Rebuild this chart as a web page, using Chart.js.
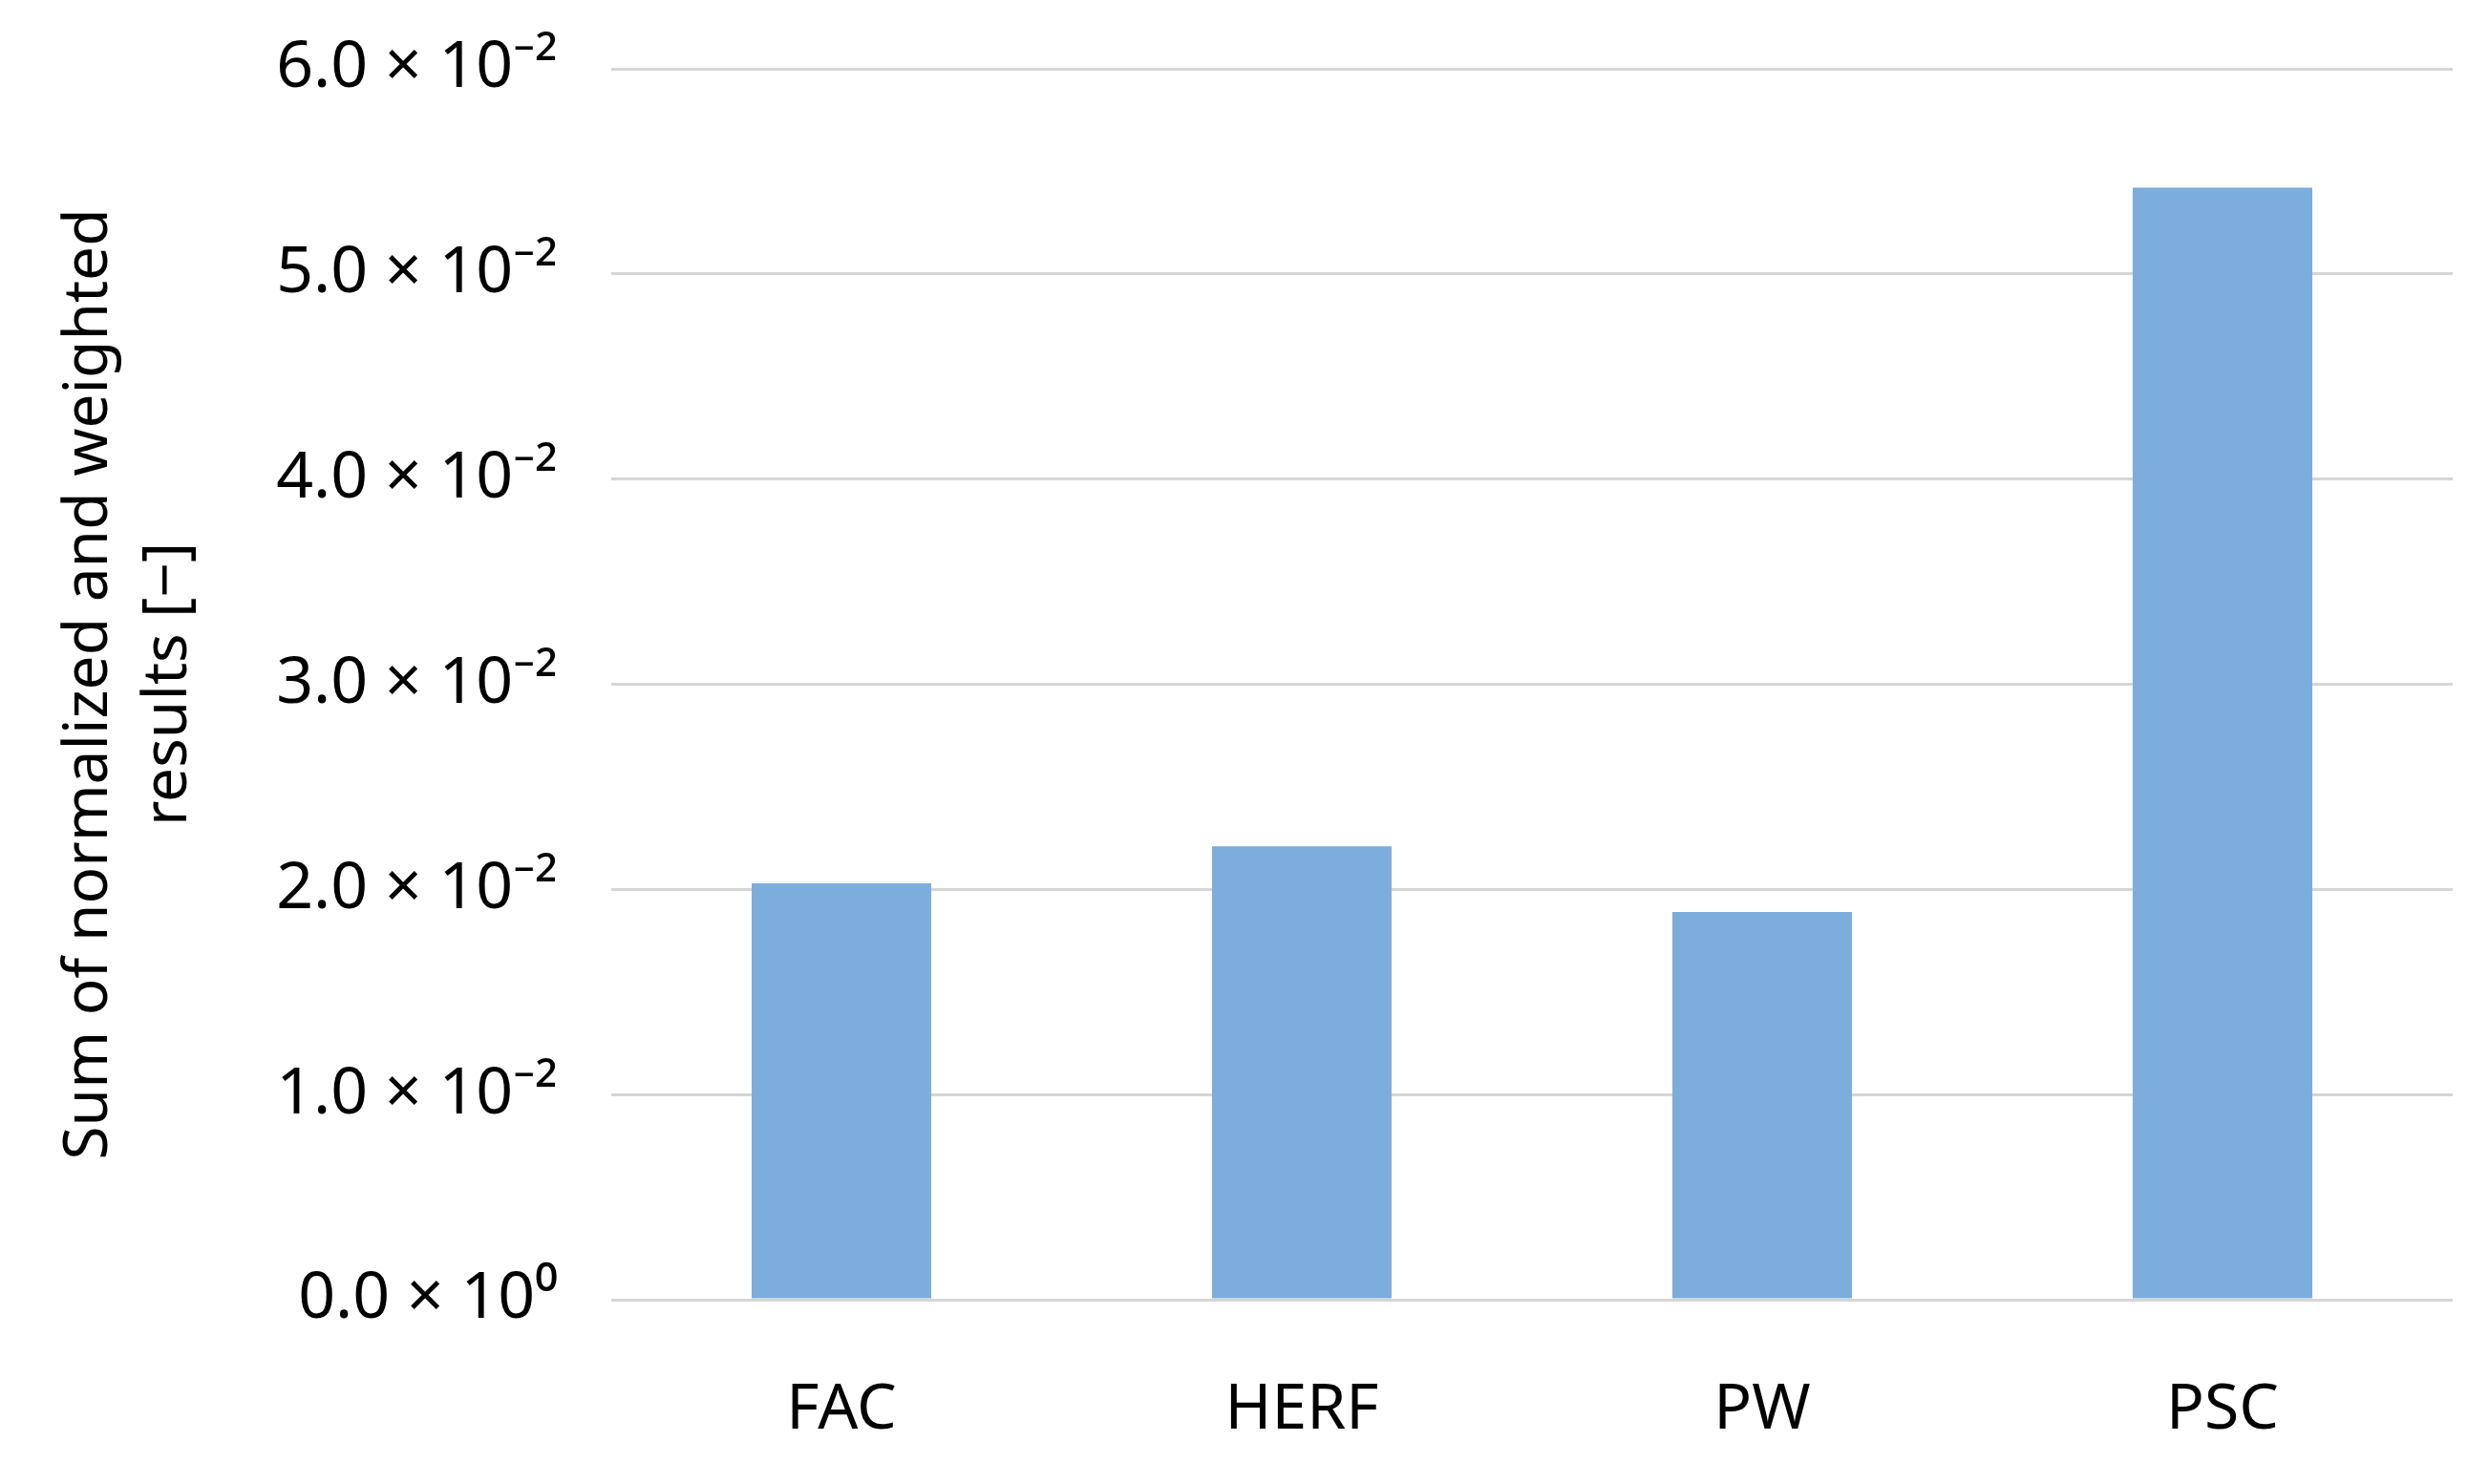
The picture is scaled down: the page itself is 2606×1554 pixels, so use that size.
<!DOCTYPE html>
<html>
<head>
<meta charset="utf-8">
<script src="https://cdn.jsdelivr.net/npm/chart.js@4"></script>
<style>
  html, body { margin: 0; padding: 0; background: #fff; }
  #wrap { width: 2606px; height: 1554px; }
</style>
</head>
<body>
<div id="wrap"><canvas id="myChart" width="2606" height="1554"></canvas></div>
<script>
// data
var categories = ["FAC", "HERF", "PW", "PSC"];
var results = [0.0203, 0.0221, 0.0189, 0.0542];
var yTicks = [0, 0.01, 0.02, 0.03, 0.04, 0.05, 0.06];
var yTitle = ["Sum of normalized and weighted", "results [\u2212]"];

function sciLabel(v) {
    if (v === 0) return "0.0 \u00d7 10\u2070";
    return (v * 100).toFixed(1) + " \u00d7 10\u207b\u00b2";
}

var ctx = document.getElementById('myChart').getContext('2d');
var font = "'Noto Sans', 'Open Sans', sans-serif";

var myChart = new Chart(ctx, {
    type: 'bar',
    data: {
        labels: categories,
        datasets: [{
            label: "results",
            data: results,
            backgroundColor: "#7daddc",
            borderWidth: 0,
            barPercentage: 0.39,
            categoryPercentage: 1.0
        }]
    },
    options: {
        responsive: false,
        animation: false,
        devicePixelRatio: 1,
        layout: { padding: { left: 52, right: 38, top: 72, bottom: 0 } },
        plugins: {
            legend: { display: false },
            tooltip: { enabled: false }
        },
        scales: {
            x: {
                grid: { display: false, drawTicks: false },
                border: { display: false },
                ticks: {
                    color: "#000",
                    font: { family: font, size: 66 },
                    padding: 77
                },
                afterFit: function (s) { s.height = 193; }
            },
            y: {
                min: 0,
                max: 0.06,
                afterBuildTicks: function (axis) {
                    axis.ticks = yTicks.map(function (v) { return { value: v }; });
                },
                grid: {
                    color: "#d6d6d6",
                    lineWidth: 3,
                    drawTicks: true,
                    tickLength: 52,
                    tickColor: "rgba(0,0,0,0)"
                },
                border: { display: false },
                ticks: {
                    color: "#000",
                    font: { family: font, size: 68 },
                    padding: 4,
                    callback: function (v) { return sciLabel(v); }
                },
                title: {
                    display: true,
                    text: yTitle,
                    color: "#000",
                    font: { family: font, size: 64, lineHeight: 1.3 },
                    padding: { top: 0, bottom: 16 }
                },
                afterFit: function (s) {
                    s.width = 588;
                    s.paddingTop = 0;
                    s.paddingBottom = 0;
                }
            }
        }
    }
});
</script>
</body>
</html>
